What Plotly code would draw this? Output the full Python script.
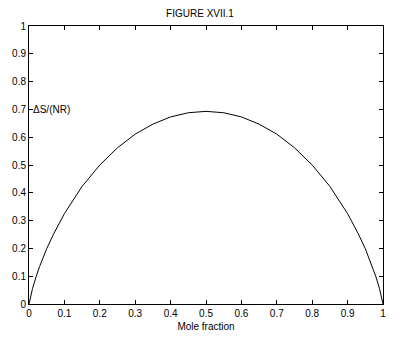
import plotly.graph_objects as go

mole_fraction = [0, 0.01, 0.02, 0.03, 0.05, 0.07, 0.1, 0.15, 0.2, 0.25, 0.3, 0.35, 0.4, 0.45, 0.5,
                 0.55, 0.6, 0.65, 0.7, 0.75, 0.8, 0.85, 0.9, 0.93, 0.95, 0.97, 0.98, 0.99, 1.0]
entropy = [0, 0.056, 0.098, 0.135, 0.199, 0.253, 0.325, 0.423, 0.500, 0.562, 0.611, 0.647, 0.673, 0.688, 0.693,
           0.688, 0.673, 0.647, 0.611, 0.562, 0.500, 0.423, 0.325, 0.253, 0.199, 0.135, 0.098, 0.056, 0]
ticks = [0, 0.1, 0.2, 0.3, 0.4, 0.5, 0.6, 0.7, 0.8, 0.9, 1]
tick_text = ["0", "0.1", "0.2", "0.3", "0.4", "0.5", "0.6", "0.7", "0.8", "0.9", "1"]

font = "Liberation Sans, Arial, Helvetica, sans-serif"

fig = go.Figure()
fig.add_trace(go.Scatter(x=mole_fraction, y=entropy, mode="lines",
                         line=dict(color="black", width=1), showlegend=False))

axis_common = dict(range=[0, 1], tickvals=ticks, ticktext=tick_text, ticks="inside", ticklen=4,
                   tickcolor="black", showline=True, linecolor="black", linewidth=1, mirror="ticks",
                   showgrid=False, zeroline=False, tickfont=dict(family=font, size=10, color="black"))

fig.update_layout(
    width=400, height=342,
    margin=dict(l=28, r=17, t=26, b=36),
    paper_bgcolor="white", plot_bgcolor="white",
    title=dict(text="FIGURE XVII.1", x=0.5, xanchor="center", y=1 - 13/342, yanchor="middle",
               font=dict(family=font, size=10, color="black")),
    xaxis=dict(**axis_common, title=dict(text="Mole fraction", font=dict(family=font, size=10, color="black"),
                                         standoff=4)),
    yaxis=dict(**axis_common),
    annotations=[dict(x=0, y=0.7, xref="x", yref="y", text="ΔS/(NR)", showarrow=False,
                      xanchor="left", yanchor="middle", xshift=2,
                      font=dict(family=font, size=10, color="black"))],
)

fig.write_html("out.html")
